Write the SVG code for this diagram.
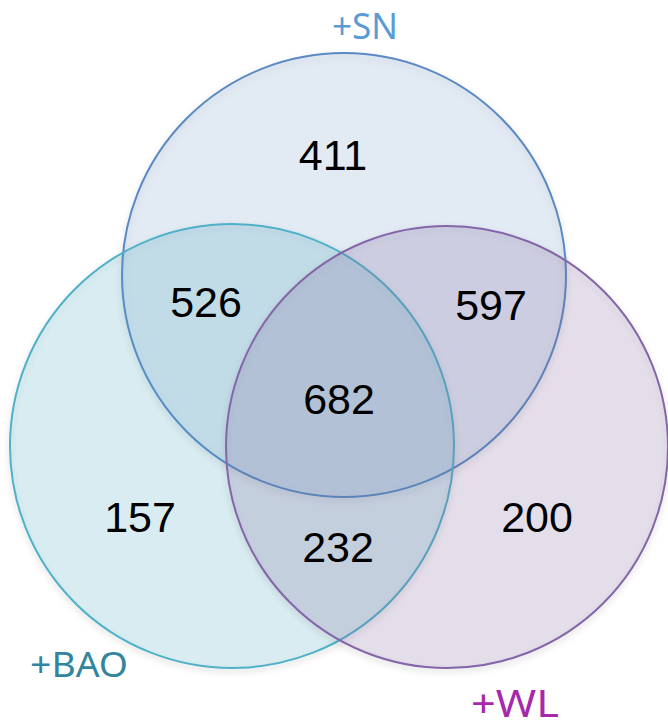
<svg xmlns="http://www.w3.org/2000/svg" width="668" height="727" viewBox="0 0 668 727">
<defs>
<style>
.num{font-family:"Liberation Sans",Arial,sans-serif;font-size:43px;fill:#000;text-anchor:middle}
.lbl{font-family:"Noto Sans","Open Sans",sans-serif}
</style>
<filter id="sh" x="-10%" y="-10%" width="120%" height="120%">
<feDropShadow dx="0" dy="3" stdDeviation="3" flood-color="#000" flood-opacity="0.18"/>
</filter>
</defs>
<rect width="668" height="727" fill="#fff"/>
<g id="set-SN">
<circle cx="344" cy="275" r="222" fill="rgb(79,129,189)" fill-opacity="0.14" stroke="#5a89c4" stroke-width="2" filter="url(#sh)"/>
</g>
<g id="set-BAO">
<circle cx="232" cy="446" r="222" fill="rgb(75,172,198)" fill-opacity="0.18" stroke="#4fb1c8" stroke-width="2" filter="url(#sh)"/>
</g>
<g id="set-WL">
<circle cx="447" cy="447" r="221" fill="rgb(128,100,162)" fill-opacity="0.18" stroke="#8466a8" stroke-width="2" filter="url(#sh)"/>
</g>
<g id="counts">
<text class="num" x="333" y="170">411</text>
<text class="num" x="206" y="317">526</text>
<text class="num" x="491" y="320">597</text>
<text class="num" x="339" y="414">682</text>
<text class="num" x="140" y="532">157</text>
<text class="num" x="537" y="532">200</text>
<text class="num" x="338" y="562">232</text>
</g>
<g id="labels">
<text class="lbl" x="332" y="39" font-size="36" fill="#5b9bd5" textLength="66" lengthAdjust="spacingAndGlyphs">+SN</text>
<text class="lbl" x="30" y="677" font-size="35" fill="#31859c" textLength="98" lengthAdjust="spacingAndGlyphs">+BAO</text>
<text class="lbl" x="471" y="717" font-size="38" fill="#a728ab" textLength="88" lengthAdjust="spacingAndGlyphs">+WL</text>
</g>
</svg>
